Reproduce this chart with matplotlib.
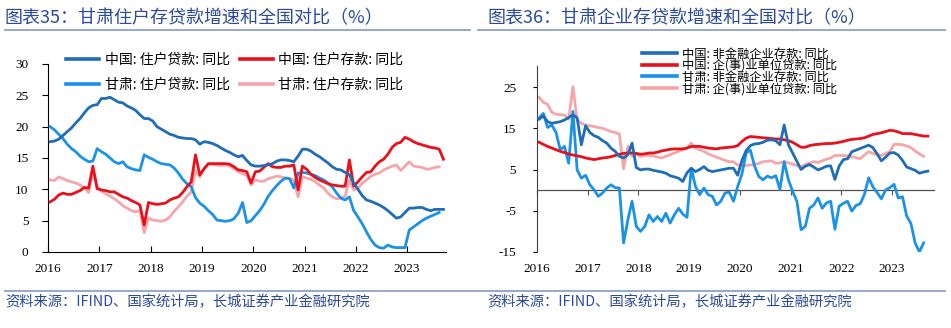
import matplotlib
matplotlib.use("Agg")
import matplotlib.pyplot as plt
import numpy as np

plt.rcParams['font.family'] = ['Noto Sans CJK SC', 'DejaVu Sans']

# ---------------- data (monthly, Jan-2016 onward) ----------------
# Left chart: household loans / deposits YoY (%)
cn_hh_loans = [
    17.6, 17.7, 18.0, 18.6, 19.2, 19.8, 20.6, 21.3, 22.2, 23.0, 23.4, 23.5,
    24.5, 24.5, 24.7, 24.3, 23.9, 23.8, 23.3, 23.0, 22.6, 21.9, 21.3, 21.3,
    20.9, 20.0, 19.6, 19.2, 18.8, 18.6, 18.3, 18.2, 18.1, 18.1, 17.9, 17.2,
    17.6, 17.5, 17.3, 17.0, 16.6, 16.2, 15.9, 15.5, 15.2, 15.4, 14.6, 13.9,
    13.7, 13.7, 13.8, 13.9, 14.1, 14.5, 14.7, 14.7, 14.6, 14.4, 15.3, 16.4,
    16.4, 16.1, 15.6, 15.2, 14.7, 14.2, 13.6, 13.2, 13.1, 12.7, 12.3, 11.0,
    10.0, 9.0, 8.3, 8.1, 7.8, 7.5, 7.1, 6.6, 6.0, 5.4, 5.6, 6.3,
    7.0, 7.0, 7.1, 7.1, 6.8, 6.6, 6.8, 6.8, 6.8,
]
cn_hh_deposits = [
    8.0, 8.4, 9.1, 9.4, 9.2, 9.2, 9.5, 9.8, 10.3, 10.2, 13.7, 10.1,
    9.9, 9.8, 9.6, 9.6, 9.2, 8.8, 8.6, 8.2, 7.9, 7.5, 4.3, 7.9,
    7.7, 7.6, 7.7, 7.8, 8.3, 8.6, 8.8, 9.5, 10.4, 11.2, 15.5, 12.3,
    13.3, 14.1, 14.1, 14.1, 14.1, 14.1, 14.0, 13.6, 13.1, 13.0, 12.8, 11.0,
    12.8, 12.9, 13.5, 14.1, 13.6, 13.5, 13.5, 13.7, 13.7, 13.9, 9.9, 13.7,
    13.2, 12.4, 11.9, 11.5, 11.2, 10.9, 10.7, 10.6, 10.5, 10.5, 14.7, 10.5,
    11.2, 12.0, 12.7, 12.8, 13.7, 14.4, 14.8, 15.6, 16.7, 17.3, 17.5, 18.3,
    18.0, 17.6, 17.3, 17.1, 16.9, 16.7, 16.6, 16.4, 14.8,
]
gs_hh_loans = [
    20.0, 19.5, 18.8, 18.1, 17.2, 16.5, 16.0, 15.3, 14.8, 14.4, 14.5, 16.5,
    16.0, 15.6, 15.0, 14.4, 14.1, 14.4, 13.6, 13.3, 13.1, 13.0, 15.5, 15.1,
    14.8, 14.4, 14.1, 14.0, 13.9, 13.4, 12.6, 11.6, 10.9, 10.4, 8.7, 7.8,
    7.3, 6.6, 6.0, 5.1, 5.0, 4.9, 5.0, 5.3, 6.2, 7.9, 4.7, 5.0,
    5.8, 6.6, 7.6, 8.9, 9.8, 10.6, 11.3, 11.8, 11.7, 10.2, 12.6, 12.7,
    12.6, 12.4, 12.2, 11.8, 11.5, 11.0, 10.4, 9.4, 8.6, 8.3, 8.8, 6.6,
    5.6, 4.5, 3.2, 2.0, 1.1, 0.7, 0.6, 1.1, 0.8, 0.7, 0.7, 0.7,
    3.5, 4.0, 4.5, 5.0, 5.4, 5.7, 6.0, 6.3,
]
gs_hh_deposits = [
    11.5, 11.4, 12.0, 11.7, 11.4, 11.2, 11.0, 10.7, 10.2, 9.5, 12.8, 10.4,
    9.7, 9.3, 8.9, 8.5, 8.0, 7.4, 7.0, 6.6, 6.4, 6.6, 3.1, 5.4,
    5.1, 5.0, 4.9, 5.1, 5.6, 6.5, 7.2, 8.0, 8.9, 9.6, 13.0, 12.0,
    13.2, 14.0, 14.0, 13.9, 13.8, 13.9, 13.7, 13.3, 12.8, 12.5, 12.2, 10.7,
    11.5, 11.3, 11.3, 11.7, 11.9, 12.1, 12.0, 11.8, 11.7, 11.5, 8.8, 12.0,
    11.8, 11.6, 11.2, 10.7, 10.2, 9.4, 8.8, 8.5, 8.6, 8.9, 11.5, 9.9,
    10.2, 11.0, 11.5, 12.1, 12.4, 12.6, 13.1, 13.4, 13.7, 13.9, 13.0, 13.7,
    14.4, 13.7, 13.6, 13.5, 13.2, 13.3, 13.5, 13.6,
]

# Right chart: enterprise deposits / loans YoY (%)
cn_corp_deposits = [
    17.2, 18.0, 16.6, 16.2, 16.4, 16.6, 17.0, 17.6, 18.3, 17.5, 11.0, 15.6,
    14.0, 13.2, 12.8, 12.0, 11.4, 10.2, 9.4, 8.2, 7.8, 8.6, 11.4, 5.5,
    4.9, 5.1, 5.1, 4.8, 4.6, 4.4, 4.1, 3.5, 3.2, 2.9, 2.1, 4.2,
    5.3, 4.5, 5.0, 5.7, 4.8, 4.5, 4.7, 4.9, 5.1, 5.3, 5.3, 3.6,
    7.2, 9.6, 10.8, 11.2, 11.3, 11.6, 12.1, 12.2, 12.0, 11.0, 15.8, 11.0,
    9.0, 7.0, 5.0, 5.8, 6.2, 5.6, 4.9, 5.3, 5.8, 5.9, 2.6, 5.8,
    7.4, 7.6, 9.3, 9.7, 10.1, 10.5, 10.9, 10.3, 8.8, 7.1, 8.0, 9.0,
    9.1, 8.5, 7.2, 5.6, 5.2, 4.8, 4.1, 4.4, 4.6,
]
cn_corp_loans = [
    11.6, 11.1, 10.6, 10.2, 9.8, 9.4, 9.1, 8.8, 8.5, 8.3, 8.1, 7.8,
    7.6, 7.4, 7.6, 7.8, 7.9, 8.1, 8.4, 8.7, 8.9, 9.0, 9.0, 8.9,
    8.7, 8.8, 9.0, 9.0, 9.2, 9.5, 9.7, 9.9, 10.0, 10.0, 10.0, 10.2,
    10.6, 10.6, 10.6, 10.4, 10.2, 10.1, 10.0, 10.2, 10.3, 10.4, 10.5, 10.8,
    11.8, 12.6, 13.0, 12.9, 12.8, 12.7, 12.6, 12.5, 12.4, 12.4, 12.2, 12.0,
    11.6, 11.0, 10.4, 10.4, 10.8, 11.0, 11.1, 11.2, 11.3, 11.3, 11.4, 11.6,
    11.8, 12.1, 12.3, 12.4, 12.5, 12.7, 13.1, 13.5, 13.7, 13.9, 14.2, 14.5,
    14.4, 14.1, 13.7, 13.7, 13.7, 13.5, 13.3, 13.1, 13.1,
]
gs_corp_deposits = [
    17.5, 18.6, 15.2, 15.8, 14.0, 9.8, 10.6, 6.5, 19.1, 4.9, 2.9, 3.6,
    1.3, 0.1, -1.5, -0.7, 0.5, 1.3, 0.6, 0.5, -12.8, -7.2, -2.7, -8.8,
    -10.0, -8.8, -6.0, -7.6, -6.4, -7.6, -5.6, -8.0, -6.0, -4.4, -5.8, -6.6,
    5.3, 0.9, -1.1, 0.5, -1.1, -1.5, -3.6, -2.7, -0.7, -0.5, -2.7, 0.9,
    3.9, 9.0, 9.7, 5.8, 3.3, 2.5, 3.4, 3.0, 3.5, 0.2, 6.9, 2.5,
    -0.3, -2.7, -9.6, -8.8, -4.4, -3.6, -1.9, -4.4, -3.1, -2.7, -9.5, -3.9,
    -3.2, -2.7, -5.1, -3.7, -3.3, -1.0, 3.0, 0.8, -0.6, -2.1, 0.0, 0.6,
    1.4, -1.9, -1.6, -6.3, -8.1, -12.8, -15.0, -12.8,
]
gs_corp_loans = [
    22.5, 21.3, 20.8, 18.9, 18.4, 18.3, 18.2, 17.2, 25.1, 17.0, 16.2, 15.8,
    15.6, 15.4, 15.2, 15.0, 14.6, 14.2, 14.0, 13.6, 5.2, 10.6, 8.2, 8.6,
    8.2, 8.4, 8.4, 8.3, 8.0, 7.8, 8.2, 8.6, 9.0, 9.4, 9.8, 10.2,
    11.4, 10.2, 9.8, 9.4, 8.8, 8.4, 8.0, 7.6, 7.2, 6.9, 6.9, 6.1,
    6.0, 6.0, 6.1, 6.2, 6.5, 6.9, 7.0, 7.1, 6.5, 6.6, 6.9, 6.6,
    6.3, 6.0, 5.6, 6.2, 6.6, 6.9, 6.7, 7.1, 7.5, 7.8, 8.4, 8.4,
    8.4, 8.3, 8.1, 7.9, 7.6, 8.5, 9.3, 8.9, 8.6, 8.4, 8.9, 9.3,
    11.1, 11.1, 11.0, 10.7, 10.3, 9.5, 8.8, 8.2,
]

years = [2016, 2017, 2018, 2019, 2020, 2021, 2022, 2023]
left_yticks = [0, 5, 10, 15, 20, 25, 30]
right_yticks = [-15, -5, 5, 15, 25]

labels_left = ['中国: 住户贷款: 同比', '中国: 住户存款: 同比',
               '甘肃: 住户贷款: 同比', '甘肃: 住户存款: 同比']
labels_right = ['中国: 非金融企业存款: 同比', '中国: 企(事)业单位贷款: 同比',
                '甘肃: 非金融企业存款: 同比', '甘肃: 企(事)业单位贷款: 同比']

title_left = '图表35：甘肃住户存贷款增速和全国对比（%）'
title_right = '图表36：甘肃企业存贷款增速和全国对比（%）'
source_text = '资料来源：IFIND、国家统计局，长城证券产业金融研究院'


def month_x(series):
    return 2016 + (np.arange(len(series)) + 0.5) / 12.0


C_DARK = '#1f6db6'
C_RED = '#e8101a'
C_LIGHT = '#1c92e6'
C_PINK = '#f5a6aa'
C_TITLE = '#2b4a9a'
LW = 2.0

W, H = 951, 328
fig = plt.figure(figsize=(W / 100, H / 100), dpi=100)

serif = ['Liberation Serif', 'DejaVu Serif']

# ---------------- left axes ----------------
axL = fig.add_axes([48 / W, 1 - 252 / H, 397.6 / W, 188 / H])
lg_dark, = axL.plot(month_x(cn_hh_loans), cn_hh_loans, color=C_DARK, lw=LW, zorder=4)
lg_pink, = axL.plot(month_x(gs_hh_deposits), gs_hh_deposits, color=C_PINK, lw=LW, zorder=2)
lg_light, = axL.plot(month_x(gs_hh_loans), gs_hh_loans, color=C_LIGHT, lw=LW, zorder=3)
lg_red, = axL.plot(month_x(cn_hh_deposits), cn_hh_deposits, color=C_RED, lw=LW, zorder=3.5)
axL.set_xlim(2016, 2023.75)
axL.set_ylim(0, 30)
axL.set_xticks(years)
axL.set_xticklabels([str(y) for y in years], family=serif, fontsize=9.5)
axL.set_yticks(left_yticks)
axL.set_yticklabels([str(v) for v in left_yticks], family=serif, fontsize=9.5)
axL.tick_params(axis='x', direction='in', length=4, width=0.8, pad=8)
axL.tick_params(axis='y', direction='out', length=4, width=0.8, pad=10)
for s in ['top', 'right']:
    axL.spines[s].set_visible(False)
for s in ['left', 'bottom']:
    axL.spines[s].set_linewidth(0.8)

legL = fig.legend([lg_dark, lg_light, lg_red, lg_pink],
                  [labels_left[0], labels_left[2], labels_left[1], labels_left[3]],
                  ncol=2, loc='upper left', bbox_to_anchor=(66 / W, 1 - 53 / H),
                  frameon=False, fontsize=10, handlelength=2.4, handletextpad=0.4,
                  columnspacing=0.7, labelspacing=0.78, borderpad=0, borderaxespad=0)
for l in legL.get_lines():
    l.set_linewidth(2.6)

# ---------------- right axes ----------------
axR = fig.add_axes([537 / W, 1 - 252 / H, 396.5 / W, 185.6 / H])
rg_pink, = axR.plot(month_x(gs_corp_loans), gs_corp_loans, color=C_PINK, lw=LW, zorder=2)
rg_light, = axR.plot(month_x(gs_corp_deposits), gs_corp_deposits, color=C_LIGHT, lw=LW, zorder=3)
rg_red, = axR.plot(month_x(cn_corp_loans), cn_corp_loans, color=C_RED, lw=LW, zorder=3.5)
rg_dark, = axR.plot(month_x(cn_corp_deposits), cn_corp_deposits, color=C_DARK, lw=LW, zorder=4)
axR.set_xlim(2016, 2023.82)
axR.set_ylim(-15, 30)
axR.set_yticks(right_yticks)
axR.set_yticklabels([str(v) for v in right_yticks], family=serif, fontsize=9.5)
axR.tick_params(axis='y', direction='out', length=3, width=0.8, pad=12)
for s in ['top', 'right']:
    axR.spines[s].set_visible(False)
axR.spines['left'].set_linewidth(0.8)
axR.spines['left'].set_color('#404040')
# x axis crosses at zero (ticks hanging below), labels kept at the bottom
axR.spines['bottom'].set_position(('data', 0))
axR.spines['bottom'].set_color('#505050')
axR.spines['bottom'].set_linewidth(0.9)
axR.set_xticks(years)
axR.set_xticklabels([])
axR.tick_params(axis='x', direction='out', length=3.5, width=0.8, color='#505050')
lab_ax = axR.secondary_xaxis('bottom')
lab_ax.set_xticks(years)
lab_ax.set_xticklabels([str(y) for y in years], family=serif, fontsize=9.5)
lab_ax.tick_params(axis='x', length=0, pad=8)
lab_ax.spines['bottom'].set_visible(False)

legR = fig.legend([rg_dark, rg_red, rg_light, rg_pink], labels_right,
                  ncol=1, loc='upper left', bbox_to_anchor=(642 / W, 1 - 47.5 / H),
                  frameon=False, fontsize=8.8, handlelength=2.9, handletextpad=0.4,
                  labelspacing=-0.12, borderpad=0, borderaxespad=0)
for l in legR.get_lines():
    l.set_linewidth(2.6)

# ---------------- titles, rules, sources ----------------
fig.text(5 / W, 1 - 18 / H, title_left, fontsize=13, color=C_TITLE,
         style='italic', va='center', ha='left')
fig.text(487 / W, 1 - 18 / H, title_right, fontsize=13, color=C_TITLE,
         style='italic', va='center', ha='left')
fig.add_artist(plt.Line2D([5 / W, 470 / W], [1 - 30 / H, 1 - 30 / H],
                          color='#8ea3c9', lw=1.3, transform=fig.transFigure))
fig.add_artist(plt.Line2D([478 / W, 945 / W], [1 - 30 / H, 1 - 30 / H],
                          color='#8ea3c9', lw=1.3, transform=fig.transFigure))
fig.add_artist(plt.Line2D([5 / W, 945 / W], [1 - 291 / H, 1 - 291 / H],
                          color='#8ea3c9', lw=1.3, transform=fig.transFigure))
fig.text(5 / W, 1 - 302 / H, source_text, fontsize=10.3, color=C_TITLE,
         style='italic', va='center', ha='left')
fig.text(487 / W, 1 - 302 / H, source_text, fontsize=10.3, color=C_TITLE,
         style='italic', va='center', ha='left')

fig.savefig('out.png', dpi=100)
